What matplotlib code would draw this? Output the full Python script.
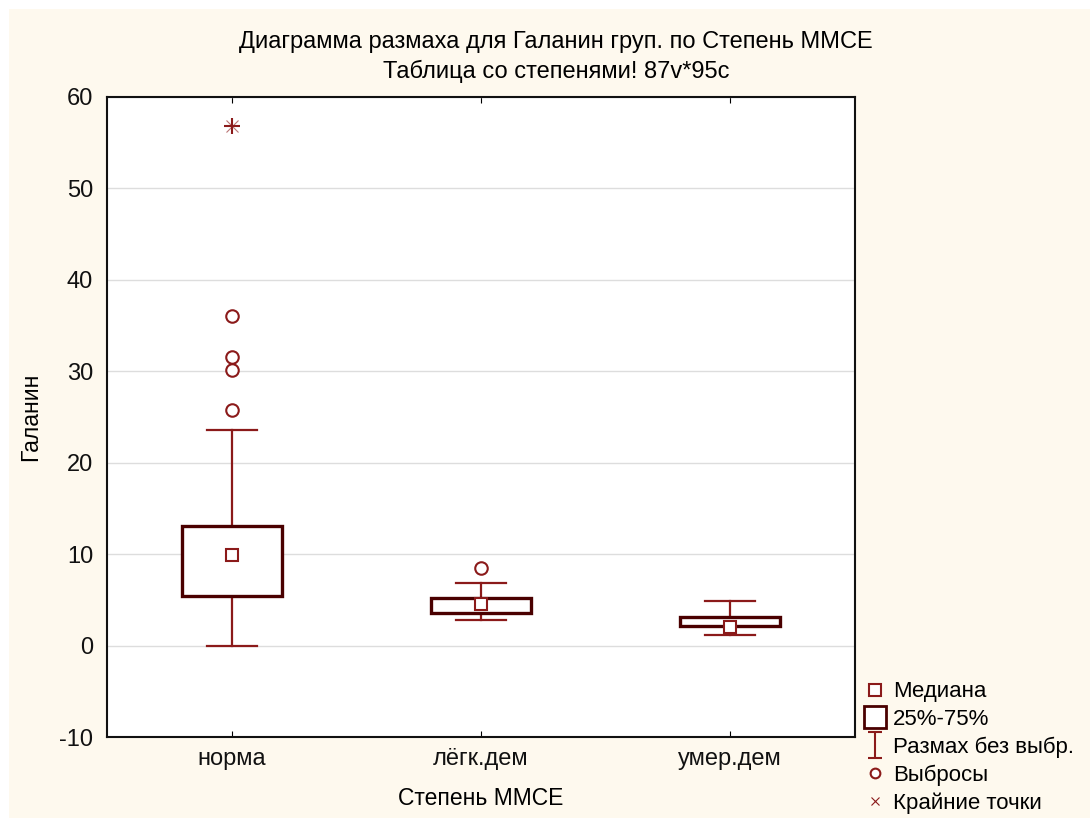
import matplotlib.pyplot as plt
from matplotlib.patches import Rectangle
from matplotlib.lines import Line2D
from matplotlib.path import Path

plt.rcParams['font.family'] = ['Liberation Sans', 'DejaVu Sans']
plt.rcParams['axes.unicode_minus'] = False

groups = ['норма', 'лёгк.дем', 'умер.дем']
medians = [9.9, 4.5, 2.0]
q1 = [5.45, 3.6, 2.1]
q3 = [13.1, 5.25, 3.15]
whisk_lo = [0.0, 2.75, 1.2]
whisk_hi = [23.6, 6.8, 4.9]
outliers = [[25.8, 30.1, 31.6, 36.0], [8.5], []]
extremes = [[56.8], [], []]

box_col = '#4a0000'
wh_col = '#8b1a1a'
cream = '#fef9ee'

fig = plt.figure(figsize=(10.9, 8.18), dpi=100)
fig.patch.set_facecolor('white')
fig.add_artist(Rectangle((9 / 1090, 0), 1, 1 - 9 / 818, transform=fig.transFigure,
                         facecolor=cream, edgecolor='none', zorder=-10))

ax = fig.add_axes([107 / 1090, 1 - 737 / 818, 748 / 1090, 640 / 818])
ax.set_facecolor('white')

bw = 0.4
cw = 0.2
for i, g in enumerate(groups):
    # whiskers and caps
    ax.plot([i, i], [whisk_lo[i], q1[i]], color=wh_col, lw=1.6, zorder=2)
    ax.plot([i, i], [q3[i], whisk_hi[i]], color=wh_col, lw=1.6, zorder=2)
    ax.plot([i - cw / 2, i + cw / 2], [whisk_lo[i]] * 2, color=wh_col, lw=1.6, zorder=2)
    ax.plot([i - cw / 2, i + cw / 2], [whisk_hi[i]] * 2, color=wh_col, lw=1.6, zorder=2)
    # box
    ax.add_patch(Rectangle((i - bw / 2, q1[i]), bw, q3[i] - q1[i], facecolor='white',
                           edgecolor=box_col, lw=2.4, zorder=3))
    ax.plot(i, medians[i], marker='s', ms=9, mfc='white', mec=wh_col, mew=1.5, zorder=4)
    for v in outliers[i]:
        ax.plot(i, v, marker='o', ms=9, mfc='white', mec=wh_col, mew=1.5, zorder=4)
    for v in extremes[i]:
        ax.plot(i, v, marker='+', ms=11, color=wh_col, mew=1.5, zorder=4)
        ax.plot(i, v, marker='x', ms=9, color=wh_col, mew=0.8, alpha=0.6, zorder=4)

ax.set_xlim(-0.5, 2.5)
ax.set_ylim(-10, 60)
ax.set_yticks(range(-10, 61, 10))
ax.set_xticks(range(len(groups)))
ax.set_xticklabels(groups)
ax.grid(axis='y', color='#dddddd', lw=1)
ax.set_axisbelow(True)
ax.tick_params(direction='in', length=4, labelsize=17, top=True, right=False, pad=8,
               labelcolor='#111111')
ax.tick_params(axis='y', length=0, pad=10)
for s in ax.spines.values():
    s.set_linewidth(1.5)
    s.set_color('#111111')

ax.set_xlabel('Степень ММСЕ', fontsize=16.5, labelpad=12)
ax.set_ylabel('Галанин', fontsize=16.5, labelpad=12)
fig.text(556 / 1090, 1 - 42 / 818, 'Диаграмма размаха для Галанин груп. по Степень ММСЕ',
         ha='center', va='center', fontsize=17)
fig.text(556 / 1090, 1 - 71 / 818, 'Таблица со степенями! 87v*95c',
         ha='center', va='center', fontsize=17)

# I-shaped marker for the whisker legend entry
whisker_mark = Path([(-0.5, -1), (0.5, -1), (0, -1), (0, 1), (-0.5, 1), (0.5, 1)],
                    [Path.MOVETO, Path.LINETO, Path.MOVETO, Path.LINETO,
                     Path.MOVETO, Path.LINETO])

handles = [
    Line2D([], [], ls='none', marker='s', ms=8, mfc='white', mec=wh_col, mew=1.5),
    Line2D([], [], ls='none', marker='s', ms=16, mfc='white', mec=box_col, mew=2),
    Line2D([], [], ls='none', marker=whisker_mark, ms=19, mfc='none', mec=wh_col, mew=1.5),
    Line2D([], [], ls='none', marker='o', ms=7, mfc='white', mec=wh_col, mew=1.5),
    Line2D([], [], ls='none', marker='x', ms=6, color=wh_col, mew=0.8),
]
labels = ['Медиана', '25%-75%', 'Размах без выбр.', 'Выбросы', 'Крайние точки']
fig.legend(handles, labels, loc='lower left', bbox_to_anchor=(855 / 1090, -5 / 818),
           frameon=False, fontsize=16, handlelength=1.0, handletextpad=0.3,
           labelspacing=0.3, borderaxespad=0.0)

fig.savefig('out.png', dpi=100, facecolor=fig.get_facecolor())
